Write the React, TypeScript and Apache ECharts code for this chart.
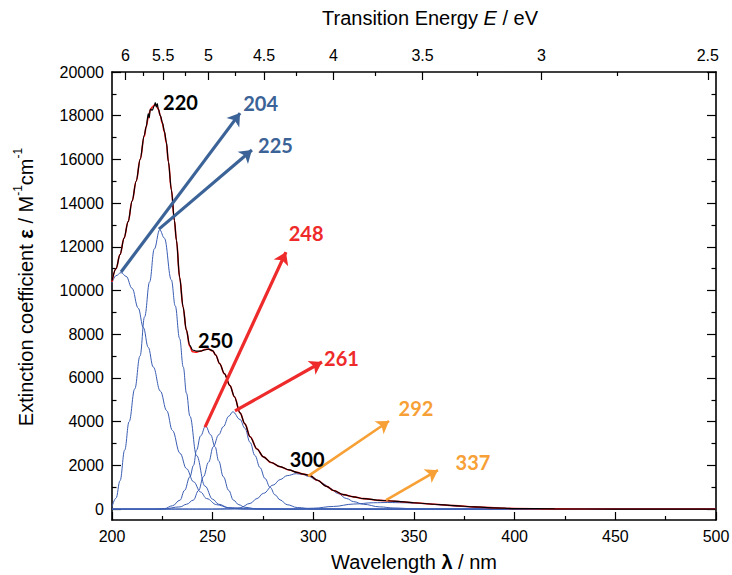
import React, { useEffect, useRef } from "react";
import * as echarts from "echarts";

// Planck constant * speed of light in eV·nm (for the top energy axis)
const HC = 1239.84;

// Measured spectrum (black)
const measuredWl = [200, 202, 204, 206, 208, 210, 212, 214, 216, 217, 218, 218.5, 219, 220, 221, 221.5, 222, 222.5, 223, 224, 225, 226, 227, 228, 229.5, 231, 232, 233.6, 235.3, 236.9, 238.6, 240, 242, 244, 246, 248, 250, 251.5, 253.5, 255.8, 258.6, 260.8, 263.6, 266, 268.6, 272, 275.2, 279, 283.5, 288, 291.8, 295, 298.4, 302, 306.6, 310, 314.9, 320, 325, 333, 340, 350, 360, 370, 380, 390, 400, 420, 450, 500];
const measuredEps = [10450, 11000, 11650, 12400, 13150, 14100, 15000, 16000, 17100, 17500, 18100, 17900, 18300, 18250, 18450, 18600, 18400, 18550, 18300, 18000, 17700, 17300, 16800, 15900, 14600, 13200, 12300, 10600, 9250, 8200, 7500, 7280, 7230, 7230, 7280, 7320, 7250, 7050, 6650, 6200, 5650, 5140, 4400, 3900, 3310, 2750, 2390, 2130, 1940, 1790, 1680, 1600, 1530, 1320, 1040, 850, 660, 560, 480, 400, 360, 290, 220, 160, 100, 55, 25, 8, 0, 0];

// Fitted sum (red)
const fitWl = [200, 202, 204, 206, 208, 210, 212, 214, 216, 217, 218, 219, 220, 221, 222, 223, 224, 225, 226, 227, 228, 229.5, 231, 232, 233.6, 235.3, 236.9, 238.6, 240, 242, 244, 246, 248, 250, 251.5, 253.5, 255.8, 258.6, 260.8, 263.6, 266, 268.6, 272, 275.2, 279, 283.5, 288, 291.8, 295, 298.4, 302, 306.6, 310, 314.9, 320, 325, 333, 340, 350, 360, 370, 380, 390, 400, 420, 450, 500];
const fitEps = [10400, 11000, 11650, 12400, 13150, 14100, 15000, 16000, 17050, 17500, 17900, 18250, 18400, 18480, 18480, 18300, 18000, 17650, 17250, 16750, 15900, 14600, 13200, 12300, 10600, 9250, 8200, 7450, 7200, 7180, 7230, 7300, 7320, 7240, 7050, 6650, 6200, 5650, 5140, 4400, 3900, 3310, 2750, 2390, 2130, 1940, 1790, 1680, 1600, 1530, 1320, 1040, 850, 660, 560, 480, 400, 360, 290, 220, 160, 100, 55, 25, 8, 0, 0];

// Gaussian components (blue)
const band204Wl = [200, 202, 204.5, 207, 210, 213, 215.6, 218, 220.5, 224, 227.2, 230, 233.8, 237, 240.5, 244, 247, 252, 258, 265, 275, 300, 500];
const band204Eps = [10340, 10680, 10820, 10650, 10100, 9200, 8300, 7400, 6500, 5400, 4500, 3600, 2550, 1850, 1250, 780, 480, 200, 60, 15, 0, 0, 0];

const band225Wl = [200, 202, 204, 206.3, 208.5, 211.3, 213.9, 216.2, 218.7, 221, 223.7, 226, 229.5, 231.4, 233.6, 235.4, 237, 238.7, 242, 246.2, 250, 253, 258, 265, 280, 500];
const band225Eps = [100, 500, 1300, 2700, 4000, 5500, 7000, 8800, 10400, 11900, 12780, 12400, 10480, 9300, 7800, 6500, 5300, 4250, 2450, 1050, 450, 220, 60, 10, 0, 0];

const band248Wl = [200, 220, 226, 230, 233.8, 236, 238.7, 240.5, 242, 244, 246.5, 249, 251.2, 253, 255.3, 258, 260.3, 263, 266, 272, 300, 500];
const band248Eps = [0, 0, 20, 150, 410, 850, 1480, 2000, 2700, 3350, 3800, 3400, 2850, 2200, 1480, 850, 410, 200, 80, 10, 0, 0];

const band261Wl = [200, 225, 233.8, 237, 240.4, 243, 245.4, 248, 250.3, 253, 255.3, 258, 260, 263.6, 266, 268.6, 271, 273.5, 276, 278.5, 281, 283.5, 287, 292, 300, 320, 500];
const band261Eps = [0, 0, 100, 220, 410, 850, 1480, 2150, 2850, 3400, 3770, 4250, 4450, 4100, 3700, 3050, 2450, 1900, 1400, 1000, 650, 420, 200, 70, 10, 0, 0];

const band292Wl = [200, 250, 258, 263.6, 268.6, 272, 275.2, 280.1, 283.5, 287, 291.5, 295, 297.4, 301.7, 305, 308.3, 312, 316.6, 320, 324.8, 333, 340, 350, 360, 500];
const band292Eps = [0, 0, 15, 60, 260, 480, 720, 1100, 1350, 1530, 1620, 1580, 1500, 1330, 1150, 950, 720, 480, 340, 220, 100, 50, 15, 0, 0];

const band337Wl = [200, 290, 300, 310, 320, 330, 337, 345, 355, 365, 375, 385, 395, 410, 430, 500];
const band337Eps = [0, 0, 40, 120, 230, 290, 300, 290, 250, 180, 110, 55, 25, 5, 0, 0];

// Axis ticks
const yMajorTicks = [0, 2000, 4000, 6000, 8000, 10000, 12000, 14000, 16000, 18000, 20000];
const yMinorTicks = [1000, 3000, 5000, 7000, 9000, 11000, 13000, 15000, 17000, 19000];
const energyMajor = [6, 5.5, 5, 4.5, 4, 3.5, 3, 2.5];
const energyMinor = [5.75, 5.25, 4.75, 4.25, 3.75, 3.25, 2.75];

// Annotation labels (anchor in wavelength / epsilon units)
const labelTexts = ["220", "204", "225", "248", "261", "292", "337", "250", "300"];
const labelWl = [234.0, 273.8, 281.2, 296.4, 314.0, 351.0, 379.3, 251.4, 296.9];
const labelEps = [18630, 18580, 16680, 12630, 6930, 4620, 2170, 7730, 2270];

// Arrows from band maxima to their labels
const arrowFromWl = [204.5, 223.3, 246.2, 261.1, 297.4, 336.1];
const arrowFromEps = [10850, 12810, 3750, 4490, 1510, 410];
const arrowToWl = [263.6, 269.5, 286.4, 304.3, 337.6, 361.9];
const arrowToEps = [18120, 16430, 11760, 6730, 4030, 1780];

const BLUE_LINE = "#3a5db3";
const STEEL = "#3b6397";
const RED = "#ee2a2a";
const ORANGE = "#f7a036";
const labelColors = ["#000000", STEEL, STEEL, RED, RED, ORANGE, ORANGE, "#000000", "#000000"];
const arrowColors = [STEEL, STEEL, RED, RED, ORANGE, ORANGE];
const arrowWidths = [3.2, 3.2, 3.2, 3.2, 2.6, 2.6];

const FONT = "Liberation Sans";

const zip = (xs: number[], ys: number[]) => xs.map((x, i) => [x, ys[i]]);

export default function App() {
  const ref = useRef<HTMLDivElement>(null);

  useEffect(() => {
    if (!ref.current) return;
    const chart = echarts.init(ref.current, undefined, { renderer: "svg" });

    const bands = [
      [band204Wl, band204Eps],
      [band225Wl, band225Eps],
      [band248Wl, band248Eps],
      [band261Wl, band261Eps],
      [band292Wl, band292Eps],
      [band337Wl, band337Eps],
    ];

    const tickStyle = { color: "#000", width: 1.2 };
    const axisLineStyle = { color: "#000", width: 1.6 };

    const option: any = {
      animation: false,
      backgroundColor: "#ffffff",
      grid: {
        left: 112,
        right: 16,
        top: 72,
        bottom: 55,
        containLabel: false,
        outerBoundsMode: "none",
      },
      xAxis: [
        {
          type: "value",
          position: "bottom",
          min: 200,
          max: 500,
          interval: 50,
          axisLine: { show: true, onZero: false, lineStyle: axisLineStyle },
          axisTick: { show: true, inside: true, length: 8, lineStyle: tickStyle },
          minorTick: { show: true, splitNumber: 2, length: 4, lineStyle: tickStyle },
          axisLabel: { color: "#000", fontSize: 16, fontFamily: FONT, margin: 8 },
          splitLine: { show: false },
          name: "{a|Wavelength }{b|λ}{a| / nm}",
          nameLocation: "middle",
          nameGap: 32,
          nameTextStyle: {
            rich: {
              a: { fontSize: 20, fontFamily: FONT, color: "#000" },
              b: { fontSize: 20, fontFamily: FONT, color: "#000", fontWeight: "bold" },
            },
          },
        },
        {
          type: "value",
          position: "top",
          min: 200,
          max: 500,
          axisLine: { show: true, onZero: false, lineStyle: axisLineStyle },
          axisTick: {
            show: true,
            inside: true,
            length: 8,
            lineStyle: tickStyle,
            customValues: energyMajor.map((e) => HC / e),
          },
          axisLabel: {
            show: true,
            color: "#000",
            fontSize: 16,
            fontFamily: FONT,
            margin: 9,
            customValues: energyMajor.map((e) => HC / e),
            formatter: (v: number) => String(Math.round((HC / v) * 100) / 100),
          },
          splitLine: { show: false },
        },
        {
          type: "value",
          position: "top",
          min: 200,
          max: 500,
          axisLine: { show: false, onZero: false },
          axisTick: {
            show: true,
            inside: true,
            length: 4,
            lineStyle: tickStyle,
            customValues: energyMinor.map((e) => HC / e),
          },
          axisLabel: { show: false },
          splitLine: { show: false },
        },
      ],
      yAxis: [
        {
          type: "value",
          position: "left",
          min: -500,
          max: 20000,
          axisLine: { show: true, onZero: false, lineStyle: axisLineStyle },
          axisTick: { show: true, inside: true, length: 9, lineStyle: tickStyle, customValues: yMajorTicks },
          axisLabel: {
            show: true,
            color: "#000",
            fontSize: 16,
            fontFamily: FONT,
            margin: 8,
            customValues: yMajorTicks,
            formatter: (v: number) => String(v),
          },
          splitLine: { show: false },
        },
        {
          type: "value",
          position: "left",
          min: -500,
          max: 20000,
          axisLine: { show: false, onZero: false },
          axisTick: { show: true, inside: true, length: 4.5, lineStyle: tickStyle, customValues: yMinorTicks },
          axisLabel: { show: false },
          splitLine: { show: false },
        },
        {
          type: "value",
          position: "right",
          min: -500,
          max: 20000,
          axisLine: { show: true, onZero: false, lineStyle: axisLineStyle },
          axisTick: { show: true, inside: true, length: 9, lineStyle: tickStyle, customValues: yMajorTicks },
          axisLabel: { show: false },
          splitLine: { show: false },
        },
        {
          type: "value",
          position: "right",
          min: -500,
          max: 20000,
          axisLine: { show: false, onZero: false },
          axisTick: { show: true, inside: true, length: 4.5, lineStyle: tickStyle, customValues: yMinorTicks },
          axisLabel: { show: false },
          splitLine: { show: false },
        },
      ],
      graphic: [
        {
          type: "text",
          left: 322,
          top: 8,
          style: {
            text: "{a|Transition Energy }{i|E}{a| / eV}",
            rich: {
              a: { fontSize: 20, fontFamily: FONT, fill: "#000", color: "#000" },
              i: { fontSize: 20, fontFamily: FONT, fill: "#000", color: "#000", fontStyle: "italic" },
            },
          },
        },
        {
          type: "text",
          x: 24,
          y: 287,
          rotation: Math.PI / 2,
          style: {
            text: "{a|Extinction coefficient }{b|ε}{a| / M}{s|-1}{a|cm}{s|-1}",
            align: "center",
            verticalAlign: "middle",
            textAlign: "center",
            textVerticalAlign: "middle",
            rich: {
              a: { fontSize: 20, fontFamily: FONT, fill: "#000", color: "#000", lineHeight: 24, verticalAlign: "bottom" },
              b: { fontSize: 20, fontFamily: FONT, fill: "#000", color: "#000", fontWeight: "bold", lineHeight: 24, verticalAlign: "bottom" },
              s: { fontSize: 12, fontFamily: FONT, fill: "#000", color: "#000", lineHeight: 24, verticalAlign: "top" },
            },
          },
        },
      ],
      series: [
        ...bands.map(([wl, eps]) => ({
          type: "line",
          xAxisIndex: 0,
          yAxisIndex: 0,
          data: zip(wl, eps),
          symbol: "none",
          smooth: 0.4,
          smoothMonotone: "x",
          silent: true,
          lineStyle: { color: BLUE_LINE, width: 1 },
          z: 2,
        })),
        {
          type: "line",
          xAxisIndex: 0,
          yAxisIndex: 0,
          data: zip(fitWl, fitEps),
          symbol: "none",
          smooth: 0.4,
          smoothMonotone: "x",
          silent: true,
          lineStyle: { color: "#ff1a1a", width: 1.6 },
          z: 3,
        },
        {
          type: "line",
          xAxisIndex: 0,
          yAxisIndex: 0,
          data: zip(measuredWl, measuredEps),
          symbol: "none",
          smooth: 0.3,
          smoothMonotone: "x",
          silent: true,
          lineStyle: { color: "#000000", width: 1.2 },
          z: 4,
        },
        {
          type: "line",
          xAxisIndex: 0,
          yAxisIndex: 0,
          data: [],
          z: 6,
          markLine: {
            silent: true,
            symbol: ["none", "arrow"],
            symbolSize: 12,
            label: { show: false },
            animation: false,
            data: arrowFromWl.map((x, i) => [
              { coord: [x, arrowFromEps[i]], lineStyle: { color: arrowColors[i], width: arrowWidths[i], type: "solid" } },
              { coord: [arrowToWl[i], arrowToEps[i]] },
            ]),
          },
          markPoint: {
            silent: true,
            symbol: "circle",
            symbolSize: 0,
            animation: false,
            label: {
              show: true,
              position: "inside",
              formatter: "{b}",
              fontFamily: "Lato",
              fontWeight: "bold",
              fontSize: 20,
            },
            data: labelTexts.map((t, i) => ({
              name: t,
              coord: [labelWl[i], labelEps[i]],
              label: { color: labelColors[i] },
            })),
          },
        },
      ],
    };

    chart.setOption(option);
    return () => chart.dispose();
  }, []);

  return (
    <div
      ref={ref}
      style={{ position: "fixed", left: 0, top: 0, width: 732, height: 575, background: "#fff" }}
    />
  );
}
